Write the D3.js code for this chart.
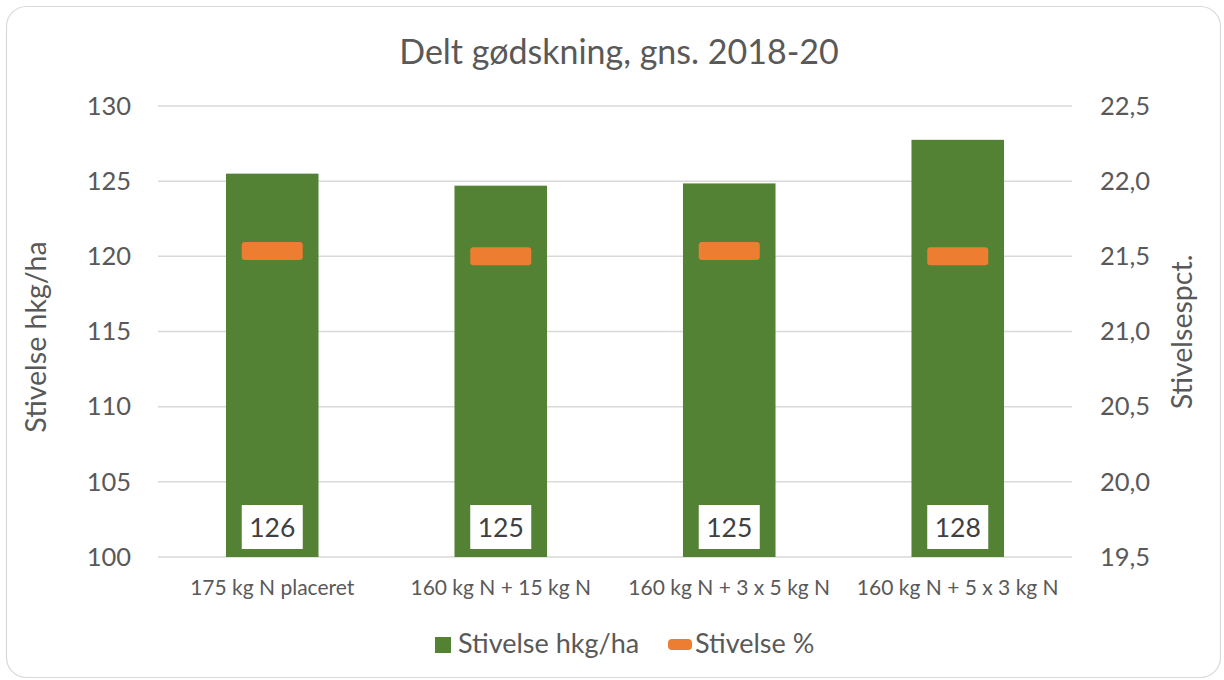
<!DOCTYPE html>
<html>
<head>
<meta charset="utf-8">
<script src="https://cdn.jsdelivr.net/npm/d3@7"></script>
<style>
  body { margin: 0; background: #fff; }
  svg, svg text { font-family: Lato, "Open Sans", sans-serif; }
</style>
</head>
<body>
<svg id="chart" width="1224" height="680"></svg>
<script>
// data
const categories = ['175 kg N placeret', '160 kg N + 15 kg N', '160 kg N + 3 x 5 kg N', '160 kg N + 5 x 3 kg N'];
const yieldValues = [125.5, 124.7, 124.85, 127.75];
const yieldLabels = ['126', '125', '125', '128'];
const pctValues = [21.535, 21.5, 21.535, 21.5];
const leftTicks = [100, 105, 110, 115, 120, 125, 130];
const rightTicks = [19.5, 20.0, 20.5, 21.0, 21.5, 22.0, 22.5];

const green = '#548235';
const orange = '#ED7D31';
const textColor = '#595959';
const gridColor = '#d9d9d9';

const svg = d3.select('#chart');
const margin = { left: 158, right: 1072, top: 106, bottom: 557 };

// outer rounded border
svg.append('rect')
  .attr('x', 6.5).attr('y', 6.5)
  .attr('width', 1214).attr('height', 671)
  .attr('rx', 20)
  .attr('fill', '#fff')
  .attr('stroke', gridColor)
  .attr('stroke-width', 1.2);

const x = d3.scaleBand()
  .domain(categories)
  .range([margin.left, margin.right])
  .paddingInner(0.595)
  .paddingOuter(0.2975);

const yLeft = d3.scaleLinear().domain([100, 130]).range([margin.bottom, margin.top]);
const yRight = d3.scaleLinear().domain([19.5, 22.5]).range([margin.bottom, margin.top]);

// gridlines
svg.append('g')
  .selectAll('line')
  .data(leftTicks)
  .enter().append('line')
  .attr('x1', margin.left).attr('x2', margin.right)
  .attr('y1', d => yLeft(d)).attr('y2', d => yLeft(d))
  .attr('stroke', gridColor)
  .attr('stroke-width', 1.5);

// left axis
const leftAxis = svg.append('g')
  .attr('transform', `translate(${margin.left},0)`)
  .call(d3.axisLeft(yLeft).tickValues(leftTicks).tickSize(0).tickPadding(27));
leftAxis.select('.domain').remove();
leftAxis.attr('font-family', null).attr('font-size', null);
leftAxis.selectAll('text')
  .attr('fill', textColor)
  .style('font-size', '25.5px');

// right axis
const fmt = d => d3.format('.1f')(d).replace('.', ',');
const rightAxis = svg.append('g')
  .attr('transform', `translate(${margin.right},0)`)
  .call(d3.axisRight(yRight).tickValues(rightTicks).tickFormat(fmt).tickSize(0).tickPadding(28));
rightAxis.select('.domain').remove();
rightAxis.attr('font-family', null).attr('font-size', null);
rightAxis.selectAll('text')
  .attr('fill', textColor)
  .style('font-size', '25.5px');

// bars
svg.append('g')
  .selectAll('rect')
  .data(categories)
  .enter().append('rect')
  .attr('x', d => x(d))
  .attr('width', x.bandwidth())
  .attr('y', (d, i) => yLeft(yieldValues[i]))
  .attr('height', (d, i) => yLeft(100) - yLeft(yieldValues[i]))
  .attr('fill', green);

// value labels at base of bars
const labels = svg.append('g')
  .selectAll('g')
  .data(categories)
  .enter().append('g')
  .attr('transform', d => `translate(${x(d) + x.bandwidth() / 2},${yLeft(100) - 30})`);
labels.append('rect')
  .attr('x', -30.5).attr('y', -22)
  .attr('width', 61).attr('height', 44)
  .attr('fill', '#fff');
labels.append('text')
  .attr('text-anchor', 'middle')
  .attr('dy', '0.36em')
  .attr('fill', '#404040')
  .style('font-size', '26.5px')
  .text((d, i) => yieldLabels[i]);

// orange dash markers (right axis)
svg.append('g')
  .selectAll('rect')
  .data(categories)
  .enter().append('rect')
  .attr('x', d => x(d) + x.bandwidth() / 2 - 30.5)
  .attr('y', (d, i) => yRight(pctValues[i]) - 9)
  .attr('width', 61).attr('height', 18)
  .attr('rx', 3)
  .attr('fill', orange);

// category labels
svg.append('g')
  .selectAll('text')
  .data(categories)
  .enter().append('text')
  .attr('x', d => x(d) + x.bandwidth() / 2)
  .attr('y', 595)
  .attr('text-anchor', 'middle')
  .attr('fill', textColor)
  .style('font-size', '21px')
  .text(d => d);

// title
svg.append('text')
  .attr('x', 619).attr('y', 64)
  .attr('text-anchor', 'middle')
  .attr('fill', textColor)
  .style('font-size', '34px')
  .text('Delt gødskning, gns. 2018-20');

// axis titles
svg.append('text')
  .attr('transform', 'translate(46,337) rotate(-90)')
  .attr('text-anchor', 'middle')
  .attr('fill', textColor)
  .style('font-size', '28.5px')
  .text('Stivelse hkg/ha');

svg.append('text')
  .attr('transform', 'translate(1192,332) rotate(-90)')
  .attr('text-anchor', 'middle')
  .attr('fill', textColor)
  .style('font-size', '28.5px')
  .text('Stivelsespct.');

// legend
const legend = svg.append('g');
legend.append('rect')
  .attr('x', 435).attr('y', 637)
  .attr('width', 16).attr('height', 16)
  .attr('fill', green);
legend.append('text')
  .attr('x', 458).attr('y', 653)
  .attr('fill', textColor)
  .style('font-size', '27px')
  .text('Stivelse hkg/ha');
legend.append('rect')
  .attr('x', 668).attr('y', 639)
  .attr('width', 24).attr('height', 11)
  .attr('rx', 4)
  .attr('fill', orange);
legend.append('text')
  .attr('x', 695).attr('y', 653)
  .attr('fill', textColor)
  .style('font-size', '27px')
  .text('Stivelse %');
</script>
</body>
</html>
